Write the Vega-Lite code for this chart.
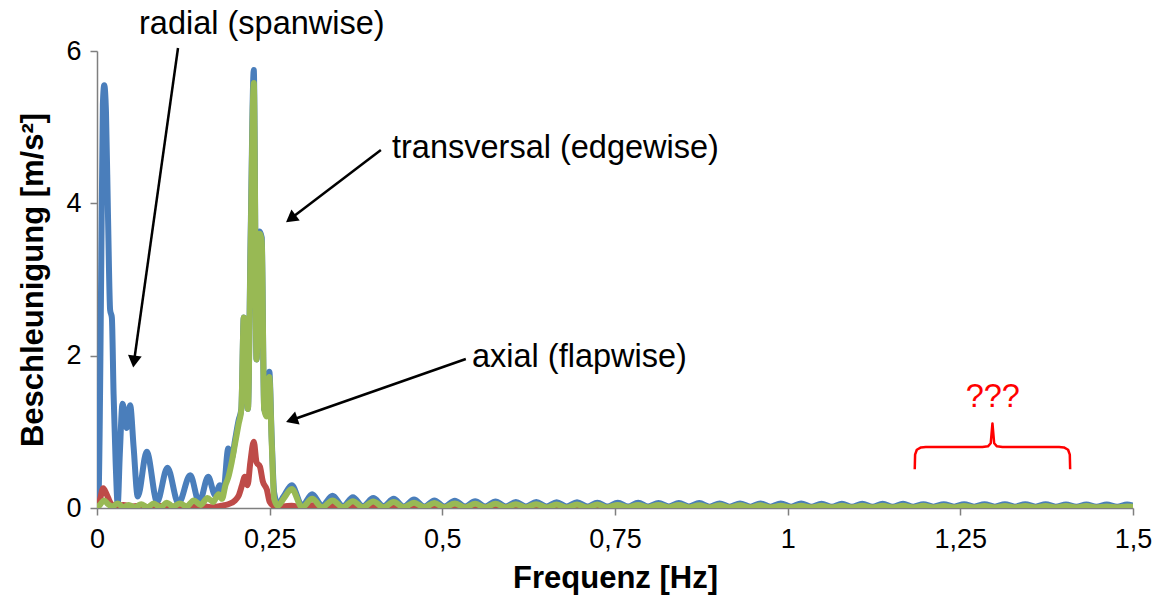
{
"$schema": "https://vega.github.io/schema/vega-lite/v6.json",
"width": 1036, "height": 457,
"autosize": {"type": "none"},
"padding": {"left": 97, "top": 51, "right": 30, "bottom": 102},
"background": "white",
"config": {"view": {"stroke": null}, "font": "Liberation Sans"},
"datasets": {
"series": [
{"f":0,"r":0,"a":0,"t":0},
{"f":0.002,"r":0.02},
{"f":0.004,"a":0.1},
{"f":0.005,"t":0.05},
{"f":0.006,"r":3.0},
{"f":0.0085,"r":5.3},
{"f":0.009,"a":0.26},
{"f":0.01,"t":0.1},
{"f":0.0105,"r":5.55},
{"f":0.013,"r":5.2},
{"f":0.014,"a":0.18},
{"f":0.016,"r":3.8,"t":0.05},
{"f":0.019,"r":2.6},
{"f":0.02,"a":0.06},
{"f":0.0215,"r":2.5},
{"f":0.022,"t":0.02},
{"f":0.024,"r":1.5},
{"f":0.027,"r":0.6},
{"f":0.028,"a":0.02},
{"f":0.03,"r":0.05,"t":0.06},
{"f":0.033,"r":0.7},
{"f":0.037,"r":1.37},
{"f":0.038,"a":0.04,"t":0.01},
{"f":0.043,"r":1.05},
{"f":0.046,"t":0.04},
{"f":0.048,"r":1.35},
{"f":0.05,"a":0.02},
{"f":0.053,"r":0.8},
{"f":0.055,"t":0.01},
{"f":0.059,"r":0.15},
{"f":0.06,"a":0.03},
{"f":0.064,"t":0.05},
{"f":0.072,"r":0.74},
{"f":0.073,"t":0.01},
{"f":0.075,"a":0.01},
{"f":0.082,"t":0.06},
{"f":0.087,"r":0.08},
{"f":0.09,"a":0.03},
{"f":0.092,"t":0.01},
{"f":0.101,"t":0.07},
{"f":0.102,"r":0.53},
{"f":0.105,"a":0.01},
{"f":0.11,"t":0.02},
{"f":0.118,"r":0.06},
{"f":0.12,"a":0.03,"t":0.06},
{"f":0.13,"t":0.02},
{"f":0.135,"r":0.43,"a":0.01},
{"f":0.14,"t":0.1},
{"f":0.148,"r":0.07},
{"f":0.15,"a":0.03,"t":0.04},
{"f":0.16,"t":0.13},
{"f":0.161,"r":0.41},
{"f":0.165,"a":0.01},
{"f":0.168,"t":0.08},
{"f":0.171,"r":0.17},
{"f":0.176,"t":0.18},
{"f":0.178,"r":0.3},
{"f":0.18,"a":0.03},
{"f":0.181,"t":0.12},
{"f":0.183,"r":0.22},
{"f":0.186,"t":0.3},
{"f":0.19,"r":0.78,"a":0.05,"t":0.4},
{"f":0.195,"r":0.65,"t":0.6},
{"f":0.2,"r":0.9,"a":0.1,"t":0.85},
{"f":0.205,"r":1.15,"a":0.16,"t":1.1},
{"f":0.209,"r":1.3,"t":1.3},
{"f":0.21,"a":0.3},
{"f":0.2125,"r":2.5,"t":2.5},
{"f":0.214,"a":0.41},
{"f":0.2155,"r":2.45,"t":2.45},
{"f":0.218,"a":0.3},
{"f":0.2185,"r":1.3,"t":1.3},
{"f":0.222,"a":0.6},
{"f":0.2225,"r":3.6,"t":3.5},
{"f":0.227,"r":5.75,"a":0.87,"t":5.58},
{"f":0.231,"r":1.95,"a":0.6,"t":1.95},
{"f":0.2355,"r":3.63,"t":3.6},
{"f":0.236,"a":0.54},
{"f":0.2385,"r":3.55,"t":3.5},
{"f":0.24,"a":0.35},
{"f":0.242,"r":1.3,"t":1.3},
{"f":0.2455,"r":1.25,"t":1.2},
{"f":0.246,"a":0.24},
{"f":0.2495,"r":1.79,"t":1.72},
{"f":0.25,"a":0.08},
{"f":0.253,"r":0.9,"t":0.85},
{"f":0.256,"a":0.03},
{"f":0.2565,"r":0.2,"t":0.12},
{"f":0.262,"r":0.05,"t":0.03},
{"f":0.27,"r":0.15,"a":0.02,"t":0.12},
{"f":0.282,"r":0.30,"a":0.03,"t":0.25},
{"f":0.297,"r":0.03,"a":0.005,"t":0.01},
{"f":0.3115,"r":0.18,"a":0.035,"t":0.12},
{"f":0.326,"r":0.03,"a":0.005,"t":0.01},
{"f":0.341,"r":0.16,"a":0.03,"t":0.1},
{"f":0.356,"r":0.025,"a":0.005,"t":0.01},
{"f":0.3705,"r":0.14,"a":0.03,"t":0.09},
{"f":0.385,"r":0.025,"a":0.005,"t":0.01},
{"f":0.4,"r":0.13,"a":0.03,"t":0.085},
{"f":0.415,"r":0.025,"a":0.005,"t":0.01},
{"f":0.4295,"r":0.12,"a":0.025,"t":0.08},
{"f":0.444,"r":0.02,"a":0.005,"t":0.01},
{"f":0.459,"r":0.11,"a":0.03,"t":0.07},
{"f":0.474,"r":0.02,"a":0.005,"t":0.01},
{"f":0.4885,"r":0.1,"a":0.025,"t":0.065},
{"f":0.503,"r":0.02,"a":0.005,"t":0.008},
{"f":0.518,"r":0.095,"a":0.025,"t":0.06},
{"f":0.533,"r":0.02,"a":0.005,"t":0.008},
{"f":0.5475,"r":0.09,"a":0.02,"t":0.055},
{"f":0.562,"r":0.02,"a":0.005,"t":0.008},
{"f":0.577,"r":0.085,"a":0.025,"t":0.055},
{"f":0.592,"r":0.02,"a":0.005,"t":0.008},
{"f":0.6065,"r":0.08,"a":0.02,"t":0.05},
{"f":0.621,"r":0.02,"a":0.004,"t":0.008},
{"f":0.636,"r":0.08,"a":0.02,"t":0.05},
{"f":0.651,"r":0.02,"a":0.004,"t":0.008},
{"f":0.6655,"r":0.075,"a":0.02,"t":0.045},
{"f":0.68,"r":0.02,"a":0.004,"t":0.008},
{"f":0.695,"r":0.075,"a":0.02,"t":0.045},
{"f":0.71,"r":0.02,"a":0.004,"t":0.008},
{"f":0.7245,"r":0.07,"a":0.02,"t":0.045},
{"f":0.739,"r":0.02,"a":0.004,"t":0.008},
{"f":0.754,"r":0.07,"a":0.02,"t":0.04},
{"f":0.769,"r":0.02,"a":0.004,"t":0.008},
{"f":0.7835,"r":0.07,"a":0.02,"t":0.04},
{"f":0.798,"r":0.02,"a":0.004,"t":0.008},
{"f":0.813,"r":0.065,"a":0.015,"t":0.04},
{"f":0.828,"r":0.02,"a":0.004,"t":0.008},
{"f":0.8425,"r":0.065,"a":0.02,"t":0.04},
{"f":0.857,"r":0.02,"a":0.004,"t":0.008},
{"f":0.872,"r":0.065,"a":0.015,"t":0.035},
{"f":0.887,"r":0.018,"a":0.004,"t":0.008},
{"f":0.9015,"r":0.06,"a":0.015,"t":0.035},
{"f":0.916,"r":0.018,"a":0.004,"t":0.008},
{"f":0.931,"r":0.06,"a":0.015,"t":0.035},
{"f":0.946,"r":0.018,"a":0.004,"t":0.008},
{"f":0.9605,"r":0.06,"a":0.015,"t":0.035},
{"f":0.975,"r":0.018,"a":0.004,"t":0.008},
{"f":0.99,"r":0.06,"a":0.015,"t":0.03},
{"f":1.005,"r":0.018,"a":0.004,"t":0.008},
{"f":1.0195,"r":0.06,"a":0.015,"t":0.03},
{"f":1.034,"r":0.018,"a":0.004,"t":0.008},
{"f":1.049,"r":0.055,"a":0.015,"t":0.03},
{"f":1.064,"r":0.018,"a":0.004,"t":0.008},
{"f":1.0785,"r":0.055,"a":0.01,"t":0.03},
{"f":1.093,"r":0.018,"a":0.004,"t":0.008},
{"f":1.108,"r":0.055,"a":0.015,"t":0.03},
{"f":1.123,"r":0.018,"a":0.004,"t":0.008},
{"f":1.1375,"r":0.055,"a":0.01,"t":0.03},
{"f":1.152,"r":0.018,"a":0.004,"t":0.008},
{"f":1.167,"r":0.055,"a":0.01,"t":0.03},
{"f":1.182,"r":0.018,"a":0.004,"t":0.008},
{"f":1.1965,"r":0.05,"a":0.01,"t":0.03},
{"f":1.211,"r":0.018,"a":0.004,"t":0.008},
{"f":1.226,"r":0.05,"a":0.01,"t":0.025},
{"f":1.241,"r":0.018,"a":0.004,"t":0.008},
{"f":1.2555,"r":0.05,"a":0.01,"t":0.025},
{"f":1.27,"r":0.018,"a":0.004,"t":0.008},
{"f":1.285,"r":0.05,"a":0.01,"t":0.025},
{"f":1.3,"r":0.018,"a":0.004,"t":0.008},
{"f":1.3145,"r":0.05,"a":0.01,"t":0.025},
{"f":1.329,"r":0.018,"a":0.004,"t":0.008},
{"f":1.344,"r":0.05,"a":0.01,"t":0.025},
{"f":1.359,"r":0.018,"a":0.004,"t":0.008},
{"f":1.3735,"r":0.05,"a":0.01,"t":0.025},
{"f":1.388,"r":0.018,"a":0.004,"t":0.008},
{"f":1.403,"r":0.045,"a":0.01,"t":0.025},
{"f":1.418,"r":0.018,"a":0.004,"t":0.008},
{"f":1.4325,"r":0.045,"a":0.01,"t":0.025},
{"f":1.447,"r":0.018,"a":0.004,"t":0.008},
{"f":1.462,"r":0.045,"a":0.01,"t":0.02},
{"f":1.477,"r":0.018,"a":0.004,"t":0.008},
{"f":1.4915,"r":0.045,"a":0.01,"t":0.02},
{"f":1.5,"r":0.03,"a":0.005,"t":0.015}
],
"arrows": [
{"id":"radial","f":0.1173,"v":6.04,"f2":0.0536,"v2":1.923},
{"id":"transversal","f":0.411,"v":4.70,"f2":0.2806,"v2":3.80},
{"id":"axial","f":0.534,"v":1.956,"f2":0.2819,"v2":1.156}
],
"labels": [
{"label":"radial (spanwise)","f":0.0608,"v":6.354},
{"label":"transversal (edgewise)","f":0.4271,"v":4.726},
{"label":"axial (flapwise)","f":0.5429,"v":1.982}
],
"marks": [
{"label":"???","f":1.297,"v":1.457}
],
"brace": [
{"i":1,"f":1.184,"v":0.51},
{"i":2,"f":1.1845,"v":0.70},
{"i":3,"f":1.187,"v":0.765},
{"i":4,"f":1.193,"v":0.795},
{"i":5,"f":1.2,"v":0.8},
{"i":6,"f":1.282,"v":0.8},
{"i":7,"f":1.29,"v":0.81},
{"i":8,"f":1.294,"v":0.85},
{"i":9,"f":1.2965,"v":1.11},
{"i":10,"f":1.299,"v":0.85},
{"i":11,"f":1.303,"v":0.81},
{"i":12,"f":1.311,"v":0.8},
{"i":13,"f":1.393,"v":0.8},
{"i":14,"f":1.4,"v":0.795},
{"i":15,"f":1.406,"v":0.765},
{"i":16,"f":1.4085,"v":0.70},
{"i":17,"f":1.409,"v":0.51}
]
},
"layer": [
{
"data": {"name": "series"},
"transform": [{"fold": ["r", "a", "t"], "as": ["s", "v"]}, {"filter": "isValid(datum.v)"}],
"mark": {"type": "line", "strokeWidth": 6, "interpolate": "monotone", "strokeJoin": "round", "strokeCap": "round", "clip": true},
"encoding": {
"x": {"field": "f", "type": "quantitative", "title": "Frequenz [Hz]",
"scale": {"domain": [0, 1.5], "nice": false, "zero": false},
"axis": {"values": [0, 0.25, 0.5, 0.75, 1, 1.25, 1.5], "labelExpr": "replace(toString(datum.value), '.', ',')",
"grid": false, "domainColor": "#7f7f7f", "domainWidth": 1.5, "tickColor": "#7f7f7f", "tickWidth": 1.5, "tickSize": 7,
"labelFontSize": 27, "labelColor": "#000000", "labelPadding": 11, "labelFont": "Liberation Sans", "labelFlush": false,
"titleFontSize": 31, "titleFontWeight": "bold", "titleColor": "#000000", "titlePadding": 11, "titleFont": "Liberation Sans"}},
"y": {"field": "v", "type": "quantitative", "title": "Beschleunigung [m/s²]",
"scale": {"domain": [0, 6], "nice": false, "zero": false},
"axis": {"values": [0, 2, 4, 6], "labelExpr": "toString(datum.value)", "grid": false, "domainColor": "#7f7f7f", "domainWidth": 1.5, "tickColor": "#7f7f7f", "tickWidth": 1.5, "tickSize": 7,
"labelFontSize": 27, "labelColor": "#000000", "labelPadding": 9, "labelFont": "Liberation Sans", "labelFlush": false,
"titleFontSize": 31, "titleFontWeight": "bold", "titleColor": "#000000", "titlePadding": 16, "titleFont": "Liberation Sans"}},
"color": {"field": "s", "type": "nominal", "scale": {"domain": ["r", "a", "t"], "range": ["#4A7EBB", "#BE4B48", "#98B954"]}, "legend": null}
}
},
{
"data": {"name": "brace"},
"mark": {"type": "line", "color": "#FF0000", "strokeWidth": 2.5, "strokeJoin": "round"},
"encoding": {
"x": {"field": "f", "type": "quantitative", "title": "Frequenz [Hz]"},
"y": {"field": "v", "type": "quantitative", "title": "Beschleunigung [m/s²]"},
"order": {"field": "i", "type": "quantitative"}
}
},
{
"data": {"name": "arrows"},
"mark": {"type": "rule", "color": "#000000", "strokeWidth": 2.5},
"encoding": {
"x": {"field": "f", "type": "quantitative", "title": "Frequenz [Hz]"},
"y": {"field": "v", "type": "quantitative", "title": "Beschleunigung [m/s²]"},
"x2": {"field": "f2"},
"y2": {"field": "v2"}
}
},
{
"data": {"name": "arrows"},
"transform": [{"filter": "datum.id === 'radial'"}],
"mark": {"type": "point", "shape": "triangle-up", "filled": true, "color": "#000000", "opacity": 1, "size": 190, "angle": 188},
"encoding": {
"x": {"field": "f2", "type": "quantitative", "title": "Frequenz [Hz]"},
"y": {"field": "v2", "type": "quantitative", "title": "Beschleunigung [m/s²]"}
}
},
{
"data": {"name": "arrows"},
"transform": [{"filter": "datum.id === 'transversal'"}],
"mark": {"type": "point", "shape": "triangle-up", "filled": true, "color": "#000000", "opacity": 1, "size": 190, "angle": 233},
"encoding": {
"x": {"field": "f2", "type": "quantitative", "title": "Frequenz [Hz]"},
"y": {"field": "v2", "type": "quantitative", "title": "Beschleunigung [m/s²]"}
}
},
{
"data": {"name": "arrows"},
"transform": [{"filter": "datum.id === 'axial'"}],
"mark": {"type": "point", "shape": "triangle-up", "filled": true, "color": "#000000", "opacity": 1, "size": 190, "angle": 251},
"encoding": {
"x": {"field": "f2", "type": "quantitative", "title": "Frequenz [Hz]"},
"y": {"field": "v2", "type": "quantitative", "title": "Beschleunigung [m/s²]"}
}
},
{
"data": {"name": "labels"},
"mark": {"type": "text", "align": "left", "baseline": "middle", "fontSize": 32.5, "font": "Liberation Sans", "color": "#000000"},
"encoding": {
"x": {"field": "f", "type": "quantitative", "title": "Frequenz [Hz]"},
"y": {"field": "v", "type": "quantitative", "title": "Beschleunigung [m/s²]"},
"text": {"field": "label"}
}
},
{
"data": {"name": "marks"},
"mark": {"type": "text", "align": "center", "baseline": "middle", "fontSize": 32.5, "font": "Liberation Sans", "color": "#FF0000"},
"encoding": {
"x": {"field": "f", "type": "quantitative", "title": "Frequenz [Hz]"},
"y": {"field": "v", "type": "quantitative", "title": "Beschleunigung [m/s²]"},
"text": {"field": "label"}
}
}
]
}
